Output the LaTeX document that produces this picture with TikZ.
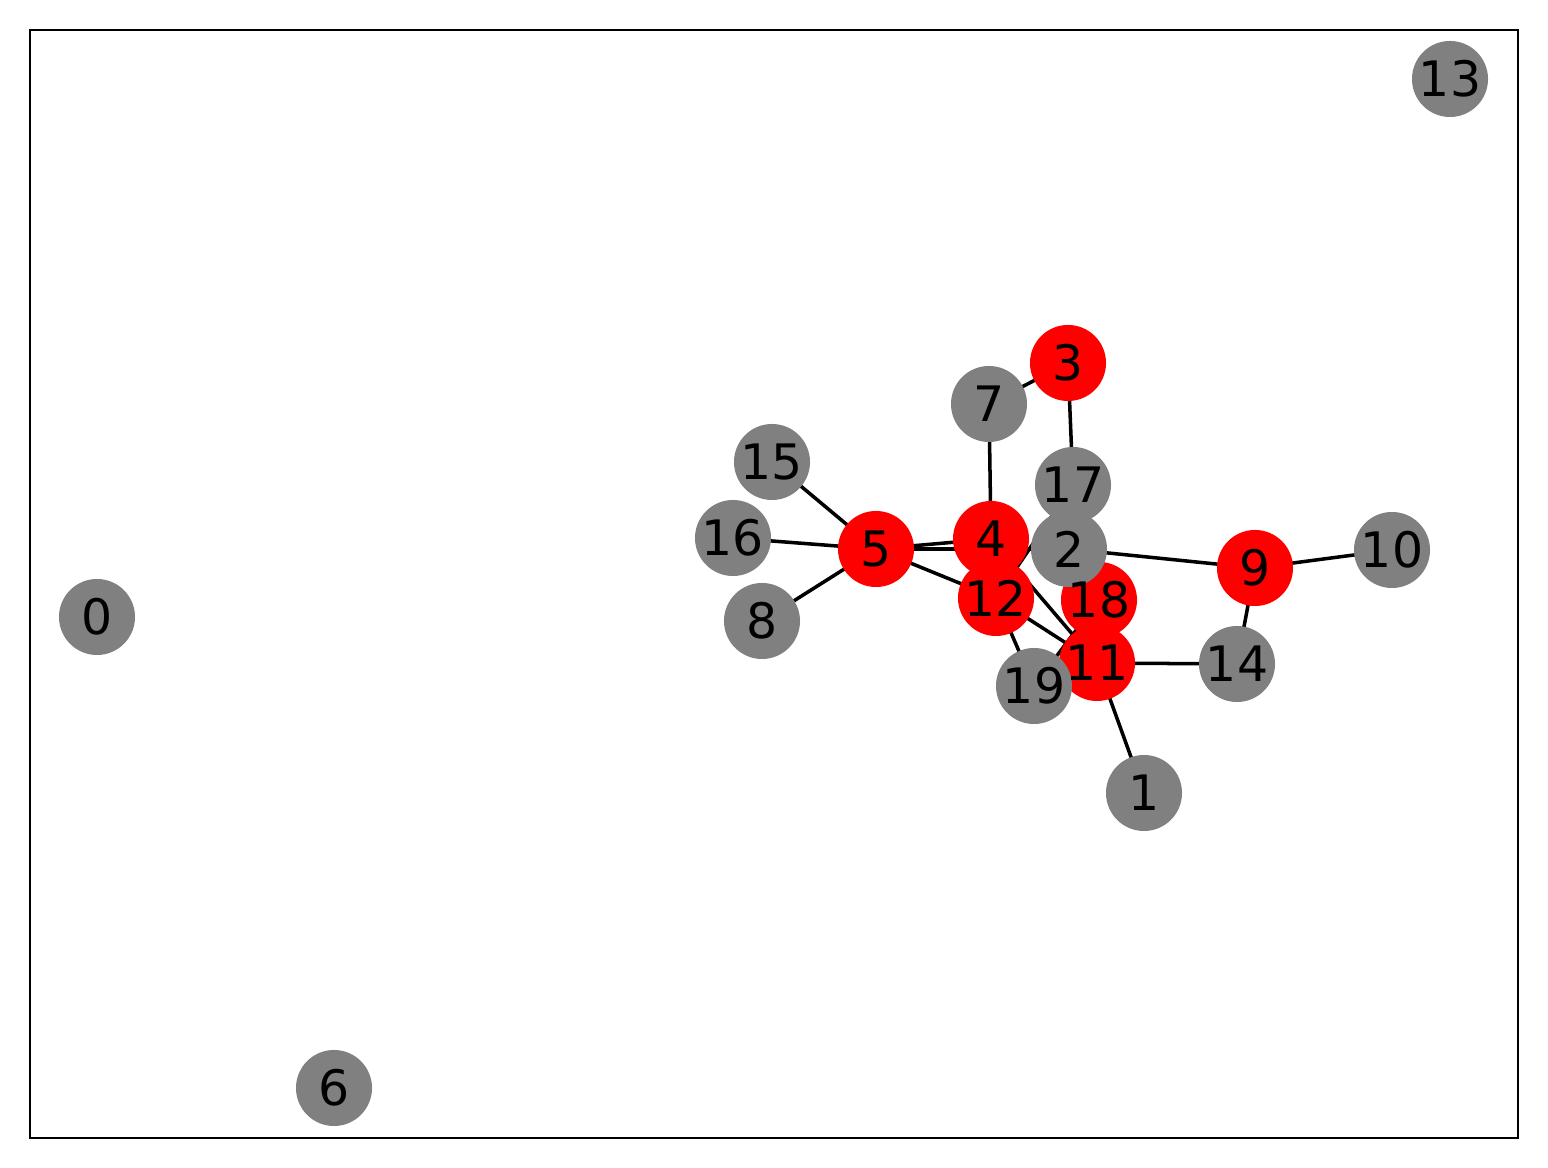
\documentclass[tikz,border=0pt]{standalone}
\usepackage{fontspec}
\setmainfont{DejaVu Sans}
\definecolor{rood}{HTML}{ff0000}
\definecolor{grijs}{HTML}{808080}
\pgfdeclarelayer{background}
\pgfsetlayers{background,main}
\tikzstyle{vertex}=[circle,
                    draw=none,
                    inner sep=0pt,
                    minimum size=0.76cm
                   ]
\tikzstyle{redvertex}=[vertex, fill=rood]
\tikzstyle{grayvertex}=[vertex, fill=grijs]
\tikzstyle{vlabel}=[inner sep=0pt, font=\fontsize{13.9}{16}\selectfont]
\tikzstyle{edge}=[black, line width=1pt]

\begin{document}
\begin{tikzpicture}[x=0.01cm, y=-0.01cm]
  \useasboundingbox (0,0) rectangle (1548,1168);
  \draw[line width=0.8pt] (30,30) rectangle (1518,1138);

  \node at (97, 617) (v0) [grayvertex] {};
  \node at (1144, 793) (v1) [grayvertex] {};
  \node at (1068, 363) (v3) [redvertex] {};
  \node at (991, 539) (v4) [redvertex] {};
  \node at (876, 549) (v5) [redvertex] {};
  \node at (334, 1088) (v6) [grayvertex] {};
  \node at (989, 404) (v7) [grayvertex] {};
  \node at (762, 621) (v8) [grayvertex] {};
  \node at (1255, 568) (v9) [redvertex] {};
  \node at (1392, 550) (v10) [grayvertex] {};
  \node at (1097, 663) (v11) [redvertex] {};
  \node at (996, 598) (v12) [redvertex] {};
  \node at (1450, 79) (v13) [grayvertex] {};
  \node at (1237, 664) (v14) [grayvertex] {};
  \node at (772, 462) (v15) [grayvertex] {};
  \node at (733, 538) (v16) [grayvertex] {};
  \node at (1073, 485) (v17) [grayvertex] {};
  \node at (1099, 600) (v18) [redvertex] {};
  \node at (1069, 549) (v2) [grayvertex] {};
  \node at (1034, 686) (v19) [grayvertex] {};

\begin{pgfonlayer}{background}
  \draw[edge] (v5.center) -- (v15.center);
  \draw[edge] (v5.center) -- (v16.center);
  \draw[edge] (v5.center) -- (v8.center);
  \draw[edge] (v5.center) -- (v4.center);
  \draw[edge] (v5.center) -- (v2.center);
  \draw[edge] (v5.center) -- (v12.center);
  \draw[edge] (v4.center) -- (v7.center);
  \draw[edge] (v4.center) -- (v11.center);
  \draw[edge] (v7.center) -- (v3.center);
  \draw[edge] (v3.center) -- (v17.center);
  \draw[edge] (v17.center) -- (v12.center);
  \draw[edge] (v12.center) -- (v11.center);
  \draw[edge] (v12.center) -- (v19.center);
  \draw[edge] (v19.center) -- (v18.center);
  \draw[edge] (v11.center) -- (v14.center);
  \draw[edge] (v11.center) -- (v1.center);
  \draw[edge] (v14.center) -- (v9.center);
  \draw[edge] (v9.center) -- (v2.center);
  \draw[edge] (v9.center) -- (v10.center);
\end{pgfonlayer}

  % labels over all circles
  \node at (v0) (t0) [vlabel] {0};
  \node at (v1) (t1) [vlabel] {1};
  \node at (v2) (t2) [vlabel] {2};
  \node at (v3) (t3) [vlabel] {3};
  \node at (v4) (t4) [vlabel] {4};
  \node at (v5) (t5) [vlabel] {5};
  \node at (v6) (t6) [vlabel] {6};
  \node at (v7) (t7) [vlabel] {7};
  \node at (v8) (t8) [vlabel] {8};
  \node at (v9) (t9) [vlabel] {9};
  \node at (v10) (t10) [vlabel] {10};
  \node at (v11) (t11) [vlabel] {11};
  \node at (v12) (t12) [vlabel] {12};
  \node at (v13) (t13) [vlabel] {13};
  \node at (v14) (t14) [vlabel] {14};
  \node at (v15) (t15) [vlabel] {15};
  \node at (v16) (t16) [vlabel] {16};
  \node at (v17) (t17) [vlabel] {17};
  \node at (v18) (t18) [vlabel] {18};
  \node at (v19) (t19) [vlabel] {19};
\end{tikzpicture}
\end{document}
